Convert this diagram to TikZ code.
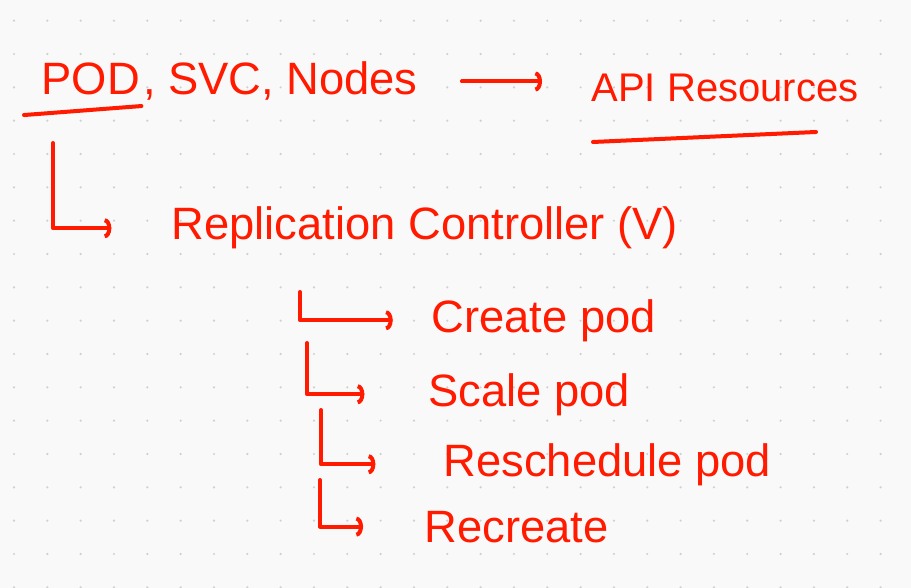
\documentclass[tikz,border=0pt]{standalone}
\usepackage{fontspec}
\setmainfont{Liberation Sans}
\usetikzlibrary{arrows.meta,calc}
\definecolor{ink}{RGB}{255,26,0}
\definecolor{paper}{RGB}{249,249,249}
\definecolor{griddot}{RGB}{208,208,208}
\tikzset{
  note/.style ={anchor=base west,inner sep=1pt,text=ink,font=\fontsize{34}{36}\selectfont},
  pen/.style  ={draw=ink,line width=3pt,line cap=round,line join=round},
  link/.style ={pen,-{Arc Barb[length=5pt,width=15pt,line width=3pt]}},
}
\begin{document}
\begin{tikzpicture}[x=0.75pt,y=-0.75pt]
  % paper with dot grid
  \fill[paper] (0,0) rectangle (911,588);
  \useasboundingbox (0,0) rectangle (911,588);
  \foreach \i in {0,...,26}{\foreach \j in {0,...,17}{
    \fill[griddot] (14+33.33*\i,20.7+33.33*\j) circle (0.9pt);}}
  % top line
  \node[note] (pod) at (40,95) {POD};
  \node[note] (rest) at (pod.base east) {, SVC, Nodes};
  \node[note,font=\fontsize{30}{32}\selectfont] (api) at (590,102) {API Resources};
  \draw[link,shorten <=32pt,shorten >=36pt] (rest.east) -- (rest.east -| api.west);
  \draw[pen] ($(pod.south west)+(-16,18)$) -- ($(pod.south east)+(0,9)$);
  \draw[pen] ($(api.south west)+(3,38)$) -- ($(api.south east)+(-44,28)$);
  % controller
  \node[note] (repl) at (170,240) {Replication Controller (V)};
  \coordinate (top) at (53,143);
  \draw[link,shorten >=44pt] (top) |- (repl.west);
  % what it does
  \node[note] (create) at (430,332) {Create pod};
  \node[note] (scale) at (427,406) {Scale pod};
  \node[note] (resched) at (442,476) {Reschedule pod};
  \node[note] (recreate) at (423,542) {Recreate};
  \coordinate (c1) at (300,292);
  \coordinate (c2) at (307,343);
  \coordinate (c3) at (321,410);
  \coordinate (c4) at (320,480);
  \foreach \c/\t/\s in {c1/create/28pt,c2/scale/47pt,c3/resched/50pt,c4/recreate/45pt}
    {\draw[link,shorten >=\s] (\c) |- (\t.west);}
\end{tikzpicture}
\end{document}
